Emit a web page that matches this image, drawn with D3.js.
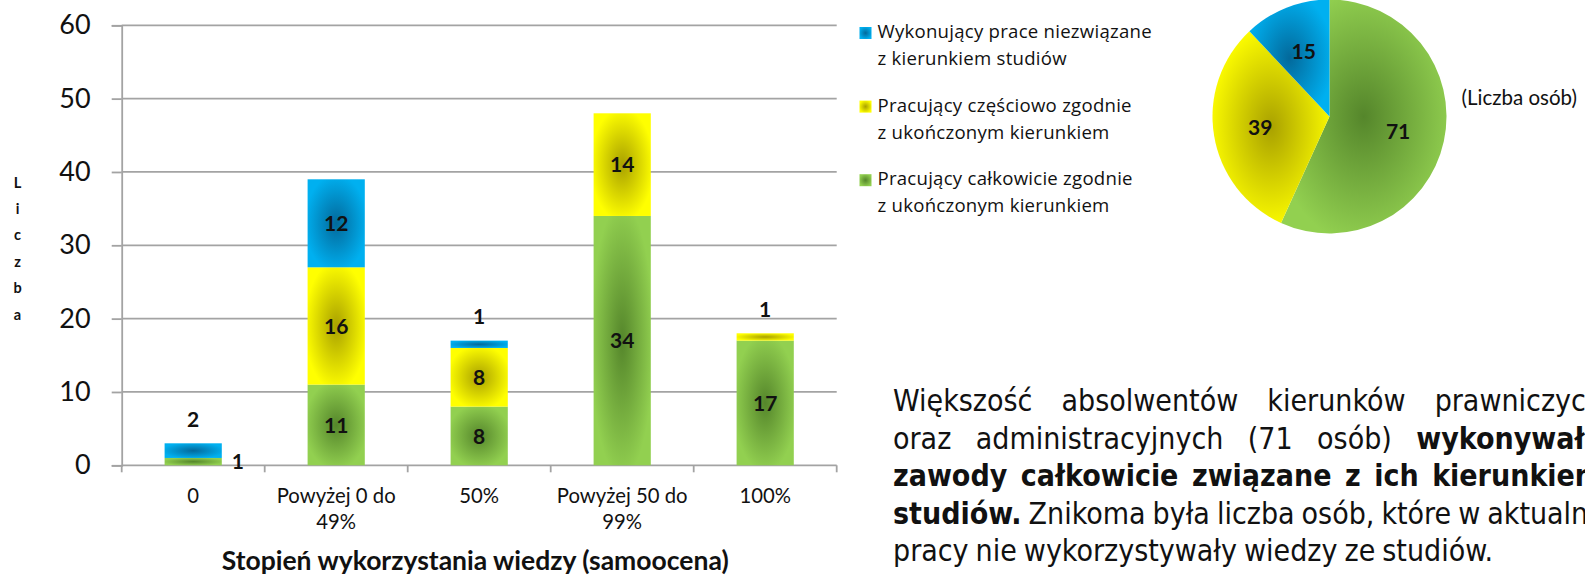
<!DOCTYPE html>
<html>
<head>
<meta charset="utf-8">
<script src="https://cdnjs.cloudflare.com/ajax/libs/d3/7.8.5/d3.min.js"></script>
<style>
  body { margin: 0; background: #fff; overflow: hidden; }
  svg { display: block; }
</style>
</head>
<body>
<div id="chart"></div>
<script>
// --- data ---
const categories = ['0', 'Powyżej 0 do 49%', '50%', 'Powyżej 50 do 99%', '100%'];
const categoryLines = [['0'], ['Powyżej 0 do', '49%'], ['50%'], ['Powyżej 50 do', '99%'], ['100%']];
const fullyMatching = [1, 11, 8, 34, 17];
const partlyMatching = [0, 16, 8, 14, 1];
const unrelated = [2, 12, 1, 0, 0];
const yTicks = [0, 10, 20, 30, 40, 50, 60];
const legendNames = [
  ['Wykonujący prace niezwiązane', 'z kierunkiem studiów'],
  ['Pracujący częściowo zgodnie', 'z ukończonym kierunkiem'],
  ['Pracujący całkowicie zgodnie', 'z ukończonym kierunkiem']
];
const pieValues = [71, 39, 15];
const paraLines = [
  'Większość absolwentów kierunków prawniczych',
  'oraz administracyjnych (71 osób) **wykonywało**',
  '**zawody całkowicie związane z ich kierunkiem**',
  '**studiów.** Znikoma była liczba osób, które w aktualnej',
  'pracy nie wykorzystywały wiedzy ze studiów.'
];

const W = 1585, H = 576;
const chartFont = 'Lato, "Open Sans", sans-serif';

const svg = d3.select('#chart').append('svg')
  .attr('width', W).attr('height', H);

// gradients (dark centre, light edge)
const grads = {
  full: ['#55862b', '#92d050'],
  partial: ['#a9a100', '#ffff00'],
  unrelated: ['#03699b', '#00b0f0']
};
const defs = svg.append('defs');
Object.entries(grads).forEach(([key, c]) => {
  const g = defs.append('radialGradient').attr('id', 'g-' + key)
    .attr('cx', '50%').attr('cy', '50%').attr('r', '55%');
  g.append('stop').attr('offset', '0%').attr('stop-color', c[0]);
  g.append('stop').attr('offset', '100%').attr('stop-color', c[1]);
});

// --- bar chart ---
const x = d3.scaleBand().domain(categories)
  .range([121.7, 836.7]).paddingInner(0.6).paddingOuter(0.3);
const y = d3.scaleLinear().domain([0, 60]).range([465.3, 25.3]);

const rows = categories.map((c, i) => ({
  cat: c, full: fullyMatching[i], partial: partlyMatching[i], unrelated: unrelated[i]
}));
const keys = ['full', 'partial', 'unrelated'];
const stacked = d3.stack().keys(keys)(rows);

// grid
svg.append('g').selectAll('line').data(yTicks).join('line')
  .attr('x1', x.range()[0]).attr('x2', x.range()[1])
  .attr('y1', d => y(d)).attr('y2', d => y(d))
  .attr('stroke', '#a3a3a3').attr('stroke-width', 1.8);

const yAxis = svg.append('g')
  .attr('transform', `translate(${x.range()[0]},0)`)
  .call(d3.axisLeft(y).tickValues(yTicks).tickSize(10).tickPadding(21));
yAxis.select('.domain').attr('stroke', '#a3a3a3').attr('stroke-width', 1.8);
yAxis.selectAll('.tick line').attr('stroke', '#a3a3a3').attr('stroke-width', 1.8);
yAxis.selectAll('.tick text').attr('font-family', chartFont).attr('font-size', 27).attr('fill', '#111');

// x ticks on category boundaries
const bounds = d3.range(categories.length + 1).map(i => x.range()[0] + i * x.step());
svg.append('g').selectAll('line').data(bounds).join('line')
  .attr('x1', d => d).attr('x2', d => d)
  .attr('y1', y(0)).attr('y2', y(0) + 7)
  .attr('stroke', '#a3a3a3').attr('stroke-width', 1.8);

// x labels
const xl = svg.append('g').selectAll('text').data(categoryLines).join('text')
  .attr('text-anchor', 'middle')
  .attr('font-family', chartFont).attr('font-size', 20.3).attr('fill', '#111')
  .attr('x', (d, i) => x(categories[i]) + x.bandwidth() / 2)
  .attr('y', 502.5);
xl.selectAll('tspan').data(d => d).join('tspan')
  .attr('x', function () { return d3.select(this.parentNode).attr('x'); })
  .attr('dy', (d, i) => i === 0 ? 0 : 26)
  .text(d => d);

// bars
const layers = svg.append('g').selectAll('g').data(stacked).join('g')
  .attr('fill', d => `url(#g-${d.key})`);
layers.selectAll('rect').data(d => d.filter(s => s[1] > s[0])).join('rect')
  .attr('x', d => x(d.data.cat))
  .attr('width', x.bandwidth())
  .attr('y', d => y(d[1]))
  .attr('height', d => y(d[0]) - y(d[1]));

// value labels
const labels = [];
stacked.forEach(layer => {
  layer.forEach(s => {
    const v = s[1] - s[0];
    if (v <= 0) return;
    const cx = x(s.data.cat) + x.bandwidth() / 2;
    const total = keys.reduce((a, k) => a + s.data[k], 0);
    let lx = cx, ly = y((s[0] + s[1]) / 2);
    if (v < 3) {
      if (s[1] === total) { ly = y(total) - 24; }
      else { lx = cx + x.bandwidth() / 2 + 16; }
    }
    labels.push({ v, lx, ly });
  });
});
svg.append('g').selectAll('text').data(labels).join('text')
  .attr('x', d => d.lx).attr('y', d => d.ly)
  .attr('dy', '0.36em')
  .attr('text-anchor', 'middle')
  .attr('font-family', chartFont).attr('font-weight', 700).attr('font-size', 21)
  .attr('fill', '#111')
  .text(d => d.v);

// y title (stacked letters)
svg.append('g').selectAll('text').data('Liczba'.split('')).join('text')
  .attr('x', 17.5).attr('y', (d, i) => 187.5 + i * 26.4)
  .attr('text-anchor', 'middle')
  .attr('font-family', chartFont).attr('font-weight', 700).attr('font-size', 14.5)
  .attr('fill', '#111')
  .text(d => d);

svg.append('text')
  .attr('x', (x.range()[0] + x.range()[1]) / 2 - 4).attr('y', 570)
  .attr('text-anchor', 'middle')
  .attr('font-family', chartFont).attr('font-weight', 700).attr('font-size', 26.5)
  .attr('fill', '#111')
  .text('Stopień wykorzystania wiedzy (samoocena)');

// --- legend ---
const legendKeys = ['unrelated', 'partial', 'full'];
const lg = svg.append('g').selectAll('g').data(legendNames).join('g')
  .attr('transform', (d, i) => `translate(859.5,${27 + i * 73.6})`);
lg.append('rect').attr('width', 12).attr('height', 12)
  .attr('fill', (d, i) => `url(#g-${legendKeys[i]})`);
lg.selectAll('text').data(d => d).join('text')
  .attr('x', 18).attr('y', (d, i) => 11 + i * 27)
  .attr('font-family', '"Open Sans", sans-serif').attr('font-size', 18.6)
  .attr('letter-spacing', 0.25)
  .attr('fill', '#111')
  .text(d => d);

// --- pie ---
const pcx = 1329.5, pcy = 116.5, pr = 117;
const pie = d3.pie().sort(null).value(d => d)(pieValues);
const arc = d3.arc().innerRadius(0).outerRadius(pr);
const labelArc = d3.arc().innerRadius(pr * 0.6).outerRadius(pr * 0.6);
const pg = svg.append('g').attr('transform', `translate(${pcx},${pcy})`);
const pieKeys = ['full', 'partial', 'unrelated'];
pg.selectAll('path').data(pie).join('path')
  .attr('d', arc)
  .attr('fill', (d, i) => `url(#g-${pieKeys[i]})`);
pg.selectAll('text').data(pie).join('text')
  .attr('transform', d => `translate(${labelArc.centroid(d)})`)
  .attr('dy', '0.36em')
  .attr('text-anchor', 'middle')
  .attr('font-family', chartFont).attr('font-weight', 700).attr('font-size', 21)
  .attr('fill', '#111')
  .text(d => d.value);

svg.append('text')
  .attr('x', 1461.5).attr('y', 104.5)
  .attr('font-family', chartFont).attr('font-size', 20.5).attr('fill', '#111')
  .text('(Liczba osób)');

// --- paragraph (justified, manual word layout) ---
const paraFont = '"Liberation Sans Narrow", "DejaVu Sans Condensed", sans-serif';
const paraX = 893, paraW = 710, paraY = 411, paraLH = 37.5;
const para = svg.append('g')
  .attr('font-family', paraFont).attr('font-size', 30).attr('fill', '#111');
paraLines.forEach((line, li) => {
  const words = [];
  line.split(/(\*\*[^*]+\*\*)/).filter(s => s.length).forEach(part => {
    const bold = part.startsWith('**');
    part.replace(/\*\*/g, '').trim().split(/\s+/).forEach(w => words.push({ w, bold }));
  });
  const nodes = words.map(d => para.append('text')
    .attr('y', paraY + li * paraLH)
    .attr('font-weight', d.bold ? 700 : 400)
    .text(d.w));
  const widths = nodes.map(n => n.node().getComputedTextLength());
  const space = 7;
  const sum = d3.sum(widths);
  const last = li === paraLines.length - 1;
  const gap = last ? space : Math.max(space, (paraW - sum) / (words.length - 1));
  let cx = paraX;
  nodes.forEach((n, i) => { n.attr('x', cx); cx += widths[i] + gap; });
});
</script>
</body>
</html>
